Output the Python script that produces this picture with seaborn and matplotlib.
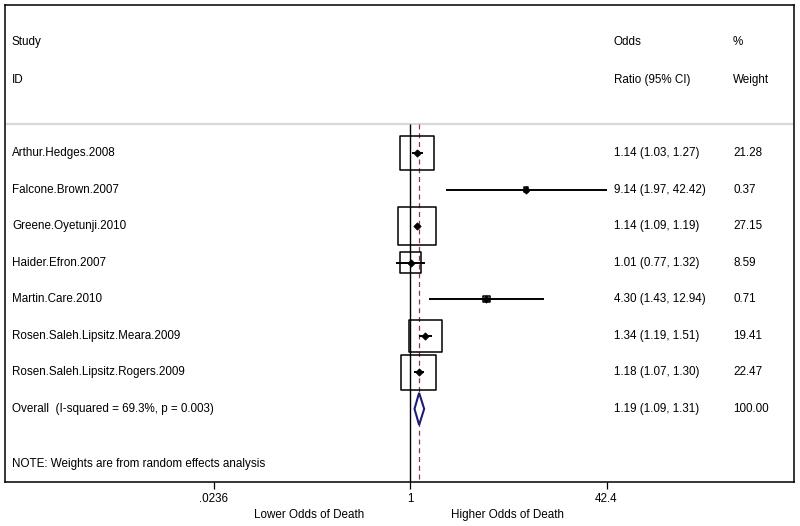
import numpy as np
import pandas as pd
import matplotlib.pyplot as plt
import seaborn as sns

studies = ["Arthur.Hedges.2008", "Falcone.Brown.2007", "Greene.Oyetunji.2010",
           "Haider.Efron.2007", "Martin.Care.2010", "Rosen.Saleh.Lipsitz.Meara.2009",
           "Rosen.Saleh.Lipsitz.Rogers.2009"]
odds = [1.14, 9.14, 1.14, 1.01, 4.30, 1.34, 1.18]
lower = [1.03, 1.97, 1.09, 0.77, 1.43, 1.19, 1.07]
upper = [1.27, 42.42, 1.19, 1.32, 12.94, 1.51, 1.30]
weights = [21.28, 0.37, 27.15, 8.59, 0.71, 19.41, 22.47]
overall = [1.19, 1.09, 1.31]
overall_label = "Overall  (I-squared = 69.3%, p = 0.003)"
xticks = [0.0236, 1, 42.4]
xticklabels = [".0236", "1", "42.4"]

df = pd.DataFrame({"study": studies, "odds": odds, "lower": lower,
                   "upper": upper, "weight": weights})
df["row"] = np.arange(len(df))

sns.set_style("white")
plt.rcParams['font.family'] = ['Liberation Sans', 'DejaVu Sans']
plt.rcParams['text.color'] = 'black'
plt.rcParams['xtick.color'] = 'black'

fig = plt.figure(figsize=(8, 5.26), dpi=100)
ax = fig.add_axes([5 / 800, 1 - 482 / 526, 789 / 800, 477 / 526])
ax.set_xscale("log")
ppd = 120.75  # pixels per decade
ax.set_xlim(10 ** ((5 - 410) / ppd), 10 ** ((794 - 410) / ppd))
ax.set_ylim(9.0, -4.05)

top = -0.79
ax.axhline(top, color="#d9d9d9", lw=1.6)
ax.vlines(1, top, 9.0, color="black", lw=1.0)
ax.vlines(overall[0], top, 9.0, color="#9b3048", lw=0.9, linestyles=(0, (4, 3)))

# confidence intervals
ax.hlines(df["row"], df["lower"], df["upper"], color="black", lw=1.4, zorder=3)
# weight boxes
sns.scatterplot(data=df, x="odds", y="row", marker="s", s=28 * df["weight"],
                facecolor="none", edgecolor="black", linewidth=1.1, ax=ax,
                legend=False, zorder=4)
# point estimates
sns.scatterplot(data=df, x="odds", y="row", marker="D", s=14, color="black",
                edgecolor="black", linewidth=0.5, ax=ax, legend=False, zorder=5)

# overall diamond
r = len(df)
ax.fill([overall[1], overall[0], overall[2], overall[0]],
        [r, r - 0.44, r, r + 0.44], facecolor="white",
        edgecolor="#1c1c78", lw=1.5, zorder=5)

# text columns
tr = ax.get_yaxis_transform()
fs = 8.4
cx0, cx1, cx2 = 7 / 789, 609 / 789, 728 / 789
ax.text(cx0, -3.03, "Study", transform=tr, va="center", fontsize=fs)
ax.text(cx0, -2.0, "ID", transform=tr, va="center", fontsize=fs)
ax.text(cx1, -3.03, "Odds", transform=tr, va="center", fontsize=fs)
ax.text(cx1, -2.0, "Ratio (95% CI)", transform=tr, va="center", fontsize=fs)
ax.text(cx2, -3.03, "%", transform=tr, va="center", fontsize=fs)
ax.text(cx2, -2.0, "Weight", transform=tr, va="center", fontsize=fs)
for i, row in df.iterrows():
    ax.text(cx0, row["row"], row["study"], transform=tr, va="center", fontsize=fs)
    ax.text(cx1, row["row"], f"{row['odds']:.2f} ({row['lower']:.2f}, {row['upper']:.2f})",
            transform=tr, va="center", fontsize=fs)
    ax.text(cx2, row["row"], f"{row['weight']:.2f}", transform=tr, va="center", fontsize=fs)
ax.text(cx0, r, overall_label, transform=tr, va="center", fontsize=fs)
ax.text(cx1, r, f"{overall[0]:.2f} ({overall[1]:.2f}, {overall[2]:.2f})",
        transform=tr, va="center", fontsize=fs)
ax.text(cx2, r, "100.00", transform=tr, va="center", fontsize=fs)
ax.text(cx0, 8.5, "NOTE: Weights are from random effects analysis", transform=tr,
        va="center", fontsize=fs)

# x axis
ax.set_xticks(xticks)
ax.set_xticklabels(xticklabels, fontsize=fs)
ax.xaxis.set_minor_locator(plt.NullLocator())
ax.tick_params(axis="x", direction="out", length=5, width=0.9, bottom=True, pad=3)
ax.set_yticks([])
ax.set_xlabel("")
ax.set_ylabel("")
for s in ax.spines.values():
    s.set_color("black")
    s.set_linewidth(1.1)

xtr = ax.get_xaxis_transform()
ax.text(0.146, -0.07, "Lower Odds of Death", transform=xtr, ha="center", va="center",
        fontsize=fs, clip_on=False)
ax.text(6.47, -0.07, "Higher Odds of Death", transform=xtr, ha="center", va="center",
        fontsize=fs, clip_on=False)

fig.savefig("out.png", dpi=100, facecolor="white")
